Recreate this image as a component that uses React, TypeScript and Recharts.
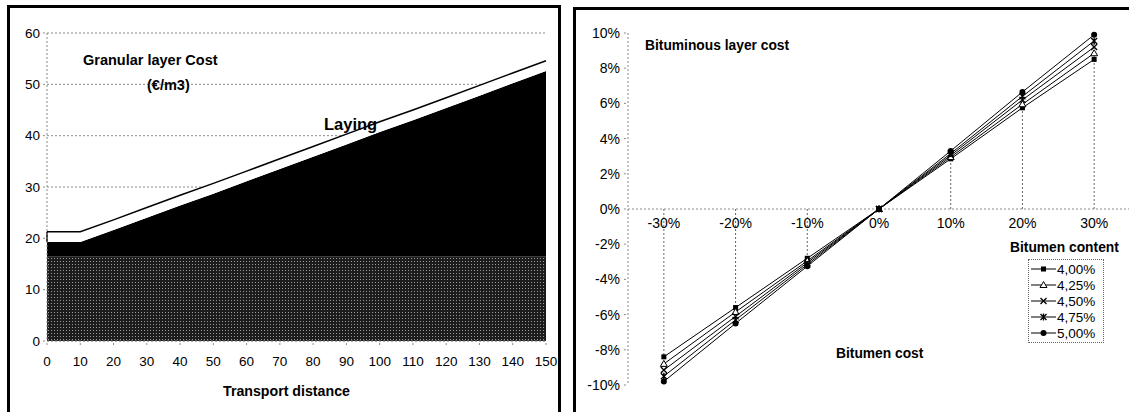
import React from "react";
import {
  AreaChart,
  Area,
  LineChart,
  Line,
  XAxis,
  YAxis,
  CartesianGrid,
  ReferenceLine,
  ReferenceDot,
  Legend,
} from "recharts";

// left chart: granular layer cost (€/m3) vs transport distance
const distances = [0, 10, 20, 30, 40, 50, 60, 70, 80, 90, 100, 110, 120, 130, 140, 150];
const materialCost = [16.5, 16.5, 16.5, 16.5, 16.5, 16.5, 16.5, 16.5, 16.5, 16.5, 16.5, 16.5, 16.5, 16.5, 16.5, 16.5];
const transportCost = [2.8, 2.8, 5.1, 7.5, 9.9, 12.2, 14.6, 17.0, 19.4, 21.8, 24.2, 26.5, 28.9, 31.3, 33.7, 36.1];
const layingCost = [2.0, 2.0, 2.0, 2.0, 2.0, 2.0, 2.0, 2.0, 2.0, 2.0, 2.0, 2.0, 2.0, 2.0, 2.0, 2.0];
const costTicks = [0, 10, 20, 30, 40, 50, 60];

// right chart: bituminous layer cost change (%) vs bitumen cost change (%)
const bitumenCost = [-30, -20, -10, 0, 10, 20, 30];
const content400 = [-8.4, -5.6, -2.8, 0, 2.85, 5.75, 8.5];
const content425 = [-8.8, -5.85, -2.95, 0, 2.95, 5.95, 8.85];
const content450 = [-9.15, -6.1, -3.05, 0, 3.05, 6.2, 9.2];
const content475 = [-9.5, -6.3, -3.15, 0, 3.15, 6.4, 9.55];
const content500 = [-9.8, -6.5, -3.25, 0, 3.3, 6.65, 9.9];
const contentLabels = ["4,00%", "4,25%", "4,50%", "4,75%", "5,00%"];
const percentTicks = [-10, -8, -6, -4, -2, 0, 2, 4, 6, 8, 10];

const FONT = "'Liberation Sans', Arial, sans-serif";

const granularData = distances.map((d, i) => ({
  distance: d,
  material: materialCost[i],
  transport: transportCost[i],
  laying: layingCost[i],
}));

// left edge of the laying band (Excel draws it outlined)
const layingBottom = materialCost[0] + transportCost[0];
const layingTop = layingBottom + layingCost[0];

const bituminousData = bitumenCost.map((c, i) => ({
  cost: c,
  c400: content400[i],
  c425: content425[i],
  c450: content450[i],
  c475: content475[i],
  c500: content500[i],
}));

const series = [
  { key: "c400", name: contentLabels[0], shape: "square" },
  { key: "c425", name: contentLabels[1], shape: "triangle" },
  { key: "c450", name: contentLabels[2], shape: "cross" },
  { key: "c475", name: contentLabels[3], shape: "star" },
  { key: "c500", name: contentLabels[4], shape: "circle" },
];

const Marker = ({ shape, cx, cy }: { shape: string; cx: number; cy: number }) => {
  if (shape === "square") return <rect x={cx - 2.5} y={cy - 2.5} width={5} height={5} fill="#000" />;
  if (shape === "triangle")
    return (
      <polygon
        points={`${cx},${cy - 3.5} ${cx + 3.5},${cy + 2.5} ${cx - 3.5},${cy + 2.5}`}
        fill="#fff"
        stroke="#000"
        strokeWidth={1}
      />
    );
  if (shape === "cross")
    return (
      <path
        d={`M${cx - 3},${cy - 3}L${cx + 3},${cy + 3}M${cx + 3},${cy - 3}L${cx - 3},${cy + 3}`}
        stroke="#000"
        strokeWidth={1.3}
      />
    );
  if (shape === "star")
    return (
      <path
        d={`M${cx - 3},${cy - 3}L${cx + 3},${cy + 3}M${cx + 3},${cy - 3}L${cx - 3},${cy + 3}M${cx},${cy - 3.5}L${cx},${cy + 3.5}`}
        stroke="#000"
        strokeWidth={1.3}
      />
    );
  return <circle cx={cx} cy={cy} r={3} fill="#000" />;
};

const markerDot = (shape: string) => (props: any) => {
  const { cx, cy, index } = props;
  return <Marker key={`${shape}-${index}`} shape={shape} cx={cx} cy={cy} />;
};

const renderLegend = (props: any) => (
  <div style={{ border: "1px dotted #666", padding: "1px 2px", background: "#fff", fontFamily: FONT }}>
    {(props.payload || []).map((entry: any) => {
      const s = series.find((x) => x.name === entry.value);
      return (
        <div key={entry.value} style={{ display: "flex", alignItems: "center", height: 16 }}>
          <svg width={25} height={10} style={{ flex: "none" }}>
            <line x1={0} y1={5} x2={25} y2={5} stroke="#000" strokeWidth={1} />
            <Marker shape={s ? s.shape : "circle"} cx={12.5} cy={5} />
          </svg>
          <span style={{ fontSize: 13.5, marginLeft: 1, color: "#000", whiteSpace: "nowrap" }}>{entry.value}</span>
        </div>
      );
    })}
  </div>
);

const Note = ({ x, y, size, children }: { x: number; y: number; size: number; children: React.ReactNode }) => (
  <div
    style={{
      position: "absolute",
      left: x,
      top: y - size / 2,
      fontSize: size,
      lineHeight: `${size}px`,
      fontWeight: "bold",
      whiteSpace: "nowrap",
      fontFamily: FONT,
      color: "#000",
    }}
  >
    {children}
  </div>
);

const axisGray = "#8a8a8a";

export default function App() {
  return (
    <div
      style={{
        position: "absolute",
        left: 0,
        top: 0,
        width: 1129,
        height: 412,
        overflow: "hidden",
        background: "#fff",
        fontFamily: FONT,
      }}
    >
      {/* panel frames */}
      <div style={{ position: "absolute", left: 7, top: 5, width: 548, height: 440, border: "3px solid #000" }} />
      <div style={{ position: "absolute", left: 573, top: 7, width: 600, height: 440, border: "3px solid #000" }} />

      <div style={{ position: "absolute", left: 0, top: 0 }}>
        <AreaChart width={560} height={412} data={granularData} margin={{ top: 33, right: 14, bottom: 41, left: 0 }}>
          <defs>
            <pattern id="grain" width={3} height={3} patternUnits="userSpaceOnUse">
              <rect width={3} height={3} fill="#1c1c1c" />
              <rect width={1} height={1} fill="#9a9a9a" />
            </pattern>
          </defs>
          <CartesianGrid vertical={false} stroke={axisGray} strokeDasharray="2 2" />
          <XAxis
            type="number"
            dataKey="distance"
            domain={[0, 150]}
            ticks={distances}
            interval={0}
            height={30}
            stroke={axisGray}
            strokeDasharray="2 2"
            tickSize={4}
            tickMargin={11}
            tick={{ fill: "#000", fontSize: 13.5, fontFamily: FONT }}
          />
          <YAxis
            type="number"
            domain={[0, 60]}
            ticks={costTicks}
            width={47}
            stroke={axisGray}
            strokeDasharray="2 2"
            tickSize={4}
            tickMargin={3}
            tick={{ fill: "#000", fontSize: 13.5, fontFamily: FONT }}
          />
          <Area
            type="linear"
            dataKey="material"
            name="Material"
            stackId="cost"
            fill="url(#grain)"
            fillOpacity={1}
            stroke="none"
            isAnimationActive={false}
          />
          <Area
            type="linear"
            dataKey="transport"
            name="Transport"
            stackId="cost"
            fill="#000"
            fillOpacity={1}
            stroke="none"
            isAnimationActive={false}
          />
          <Area
            type="linear"
            dataKey="laying"
            name="Laying"
            stackId="cost"
            fill="#fff"
            fillOpacity={1}
            stroke="#000"
            strokeWidth={1.5}
            isAnimationActive={false}
          />
          <ReferenceLine
            segment={[
              { x: distances[0], y: layingBottom },
              { x: distances[0], y: layingTop },
            ]}
            stroke="#000"
            strokeWidth={1.5}
          />
        </AreaChart>
      </div>

      <Note x={83} y={60} size={14.5}>Granular layer Cost</Note>
      <Note x={147} y={85} size={14.5}>(€/m3)</Note>
      <Note x={324} y={124} size={16.5}>Laying</Note>
      <Note x={223} y={391} size={14.2}>Transport distance</Note>

      <div style={{ position: "absolute", left: 560, top: 0 }}>
        <LineChart width={580} height={412} data={bituminousData} margin={{ top: 33, right: 10, bottom: 27, left: 0 }}>
          <XAxis type="number" dataKey="cost" domain={[-35, 35]} hide />
          <YAxis
            type="number"
            domain={[-10, 10]}
            ticks={percentTicks}
            interval={0}
            width={68}
            stroke={axisGray}
            strokeDasharray="2 2"
            tickSize={4}
            tickMargin={4}
            tickFormatter={(v: number) => `${v}%`}
            tick={{ fill: "#000", fontSize: 14, fontFamily: FONT }}
          />
          <ReferenceLine y={0} stroke={axisGray} strokeDasharray="2 2" />
          {bitumenCost.map((c, i) => (
            <ReferenceLine
              key={`drop-${c}`}
              segment={[
                { x: c, y: 0 },
                { x: c, y: content500[i] },
              ]}
              stroke="#666"
              strokeDasharray="2 2"
            />
          ))}
          {bitumenCost.map((c) => (
            <ReferenceDot
              key={`lbl-${c}`}
              x={c}
              y={0}
              r={0}
              fill="none"
              stroke="none"
              label={{ value: `${c}%`, position: "bottom", offset: 9, fill: "#000", fontSize: 14, fontFamily: FONT }}
            />
          ))}
          {series.map((s) => (
            <Line
              key={s.key}
              type="linear"
              dataKey={s.key}
              name={s.name}
              stroke="#000"
              strokeWidth={1}
              dot={markerDot(s.shape)}
              activeDot={false}
              isAnimationActive={false}
            />
          ))}
          <Legend
            layout="vertical"
            align="center"
            verticalAlign="middle"
            content={renderLegend}
            wrapperStyle={{ left: 468, top: 259, width: 76 }}
          />
        </LineChart>
      </div>

      <Note x={645} y={46} size={13.8}>Bituminous layer cost</Note>
      <Note x={836} y={354} size={13.8}>Bitumen cost</Note>
      <Note x={1010} y={248} size={13.8}>Bitumen content</Note>
    </div>
  );
}
